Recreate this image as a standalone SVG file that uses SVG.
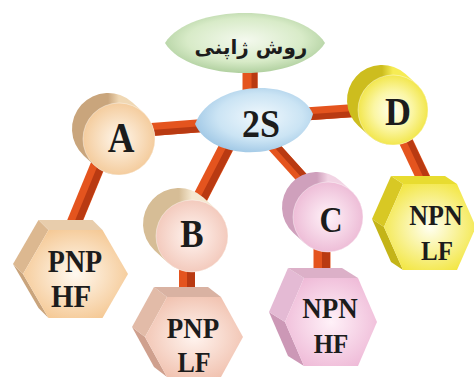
<svg xmlns="http://www.w3.org/2000/svg" width="474" height="385" viewBox="0 0 474 385">
<style>
.lbl{font-family:"Liberation Serif","Times New Roman",serif;font-weight:bold;text-anchor:middle;fill:#1c1c1c}
.bar{stroke:#e4541e;fill:none}
.shade{stroke:#b93a12;fill:none}
.edge{stroke:#ffffff;stroke-opacity:0.5;stroke-width:0.8}
</style>
<defs>
<radialGradient id="gGreen" cx="0.5" cy="0.45" r="0.6"><stop offset="0" stop-color="#f4f9ee"/><stop offset="0.6" stop-color="#d8ebc8"/><stop offset="1" stop-color="#a6c995"/></radialGradient>
<radialGradient id="gBlue" cx="0.55" cy="0.45" r="0.6"><stop offset="0" stop-color="#f0f8fd"/><stop offset="0.6" stop-color="#cbe4f4"/><stop offset="1" stop-color="#9cc5e4"/></radialGradient>
<radialGradient id="fA" cx="0.5" cy="0.5" r="0.55"><stop offset="0" stop-color="#fff7ec"/><stop offset="1" stop-color="#f3c896"/></radialGradient>
<linearGradient id="sA" x1="0" y1="0" x2="1" y2="0"><stop offset="0" stop-color="#c9a57c"/><stop offset="1" stop-color="#f0d8b4"/></linearGradient>
<radialGradient id="fB" cx="0.5" cy="0.5" r="0.55"><stop offset="0" stop-color="#fff5f1"/><stop offset="1" stop-color="#f2c6b8"/></radialGradient>
<linearGradient id="sB" x1="0" y1="0" x2="1" y2="0"><stop offset="0" stop-color="#d6bd96"/><stop offset="1" stop-color="#f5e8d0"/></linearGradient>
<radialGradient id="fC" cx="0.5" cy="0.5" r="0.55"><stop offset="0" stop-color="#fff3f9"/><stop offset="1" stop-color="#ecb8d4"/></radialGradient>
<linearGradient id="sC" x1="0" y1="0" x2="1" y2="0"><stop offset="0" stop-color="#cfa0bc"/><stop offset="1" stop-color="#f2d4e4"/></linearGradient>
<radialGradient id="fD" cx="0.5" cy="0.5" r="0.55"><stop offset="0" stop-color="#ffffef"/><stop offset="0.5" stop-color="#fbf6a4"/><stop offset="1" stop-color="#f0e33a"/></radialGradient>
<linearGradient id="sD" x1="0" y1="0" x2="1" y2="0"><stop offset="0" stop-color="#cdbd1e"/><stop offset="1" stop-color="#f6ec54"/></linearGradient>
<radialGradient id="hA" cx="0.5" cy="0.5" r="0.6"><stop offset="0" stop-color="#fff9f0"/><stop offset="1" stop-color="#f4c58e"/></radialGradient>
<radialGradient id="hB" cx="0.5" cy="0.5" r="0.6"><stop offset="0" stop-color="#fff4ef"/><stop offset="1" stop-color="#f0bfac"/></radialGradient>
<radialGradient id="hC" cx="0.5" cy="0.5" r="0.6"><stop offset="0" stop-color="#fff1f8"/><stop offset="1" stop-color="#eeb8d6"/></radialGradient>
<radialGradient id="hD" cx="0.5" cy="0.5" r="0.6"><stop offset="0" stop-color="#fffff2"/><stop offset="1" stop-color="#f2e53a"/></radialGradient>
</defs>
<rect width="474" height="385" fill="#ffffff"/>

<g id="connectors">
<line class="bar" x1="250" y1="66" x2="250" y2="97" stroke-width="15"/>
<line class="shade" x1="254.5" y1="66" x2="254.5" y2="97" stroke-width="6"/>
<line class="bar" x1="145" y1="130" x2="210" y2="125" stroke-width="13"/>
<line class="shade" x1="145" y1="133.5" x2="210" y2="128.5" stroke-width="6"/>
<line class="bar" x1="305" y1="114" x2="362" y2="110" stroke-width="13"/>
<line class="shade" x1="305" y1="117.5" x2="362" y2="113.5" stroke-width="6"/>
<line class="bar" x1="230" y1="140" x2="198" y2="202" stroke-width="15"/>
<line class="shade" x1="233.1" y1="141.6" x2="201.1" y2="203.6" stroke-width="7"/>
<line class="bar" x1="266" y1="138" x2="312" y2="189" stroke-width="12"/>
<line class="shade" x1="268.2" y1="136" x2="314.2" y2="187" stroke-width="6"/>
<line class="bar" x1="100" y1="160" x2="72" y2="228" stroke-width="15"/>
<line class="shade" x1="103.2" y1="161.3" x2="75.2" y2="229.3" stroke-width="7"/>
<line class="bar" x1="187" y1="258" x2="187" y2="302" stroke-width="16"/>
<line class="shade" x1="191" y1="258" x2="191" y2="302" stroke-width="8"/>
<line class="bar" x1="322" y1="245" x2="322" y2="284" stroke-width="17"/>
<line class="shade" x1="326" y1="245" x2="326" y2="284" stroke-width="8"/>
<line class="bar" x1="402" y1="133" x2="428" y2="188" stroke-width="14"/>
<line class="shade" x1="405.1" y1="131.5" x2="431.1" y2="186.5" stroke-width="6"/>
</g>

<g id="node-method">
<path d="M165,43 C190,3 300,3 325,43 C300,83 190,83 165,43 Z" fill="url(#gGreen)"/>
<text x="251" y="54" font-family="'DejaVu Sans','Noto Sans',sans-serif" font-weight="bold" font-size="20" text-anchor="middle" fill="#1c1c1c">روش ژاپنی</text>
</g>

<g id="node-2S">
<path d="M195,124 C212,80 296,76 313,114 C302,160 214,166 195,124 Z" fill="url(#gBlue)"/>
<text class="lbl" font-size="36" transform="translate(261,137) scale(1,1.12)">2S</text>
</g>

<g id="node-A">
<line x1="119" y1="139" x2="108" y2="129" stroke="url(#sA)" stroke-width="72" stroke-linecap="round"/>
<circle cx="119" cy="139" r="36" fill="url(#fA)" class="edge"/>
<text class="lbl" font-size="37" transform="translate(121,152) scale(1,1.12)">A</text>
</g>

<g id="node-B">
<line x1="192" y1="236" x2="179" y2="224" stroke="url(#sB)" stroke-width="72" stroke-linecap="round"/>
<circle cx="192" cy="236" r="36" fill="url(#fB)" class="edge"/>
<text class="lbl" font-size="35" transform="translate(192,247) scale(1,1.12)">B</text>
</g>

<g id="node-C">
<line x1="328" y1="217" x2="317" y2="207" stroke="url(#sC)" stroke-width="70" stroke-linecap="round"/>
<circle cx="328" cy="217" r="35" fill="url(#fC)" class="edge"/>
<text class="lbl" font-size="32" transform="translate(331,232) scale(1,1.12)">C</text>
</g>

<g id="node-D">
<line x1="393" y1="110" x2="382" y2="100" stroke="url(#sD)" stroke-width="70" stroke-linecap="round"/>
<circle cx="393" cy="110" r="35" fill="url(#fD)" class="edge"/>
<text class="lbl" font-size="36" transform="translate(398,125) scale(1,1.12)">D</text>
</g>

<g id="node-PNP-HF">
<polygon points="48.5,318 38.5,308 13,264 23,274" fill="#c9a47c"/>
<polygon points="23,274 13,264 38.5,220 48.5,230" fill="#dcb890"/>
<polygon points="48.5,230 38.5,220 92.5,220 102.5,230" fill="#e8cdac"/>
<polygon points="23,274 48.5,230 102.5,230 128,274 102.5,318 48.5,318" fill="url(#hA)"/>
<text class="lbl" font-size="28" transform="translate(75,272) scale(1,1.12)">PNP</text>
<text class="lbl" font-size="29" transform="translate(71,307) scale(1,1.12)">HF</text>
</g>

<g id="node-PNP-LF">
<polygon points="167,377 154,367 132,327 145,337" fill="#cfa08e"/>
<polygon points="145,337 132,327 154,287 167,297" fill="#e2bba8"/>
<polygon points="167,297 154,287 208,287 221,297" fill="#d9b2a2"/>
<polygon points="145,337 167,297 221,297 243,337 221,377 167,377" fill="url(#hB)"/>
<text class="lbl" font-size="27" transform="translate(193,338) scale(1,1.12)">PNP</text>
<text class="lbl" font-size="26" transform="translate(194,372) scale(1,1.12)">LF</text>
</g>

<g id="node-NPN-HF">
<polygon points="304,366 288,356 269,312 285,322" fill="#cc98b6"/>
<polygon points="285,322 269,312 288,268 304,278" fill="#e4bad4"/>
<polygon points="304,278 288,268 342,268 358,278" fill="#dcb0c8"/>
<polygon points="285,322 304,278 358,278 377,322 358,366 304,366" fill="url(#hC)"/>
<text class="lbl" font-size="27" transform="translate(330,318) scale(1,1.12)">NPN</text>
<text class="lbl" font-size="25" transform="translate(331,353) scale(1,1.12)">HF</text>
</g>

<g id="node-NPN-LF">
<polygon points="403,270 391,262 372,219 384,227" fill="#c4b418"/>
<polygon points="384,227 372,219 391,176 403,184" fill="#d8c824"/>
<polygon points="403,184 391,176 445,176 457,184" fill="#e8dc30"/>
<polygon points="384,227 403,184 457,184 476,227 457,270 403,270" fill="url(#hD)"/>
<text class="lbl" font-size="26" transform="translate(436,225) scale(1,1.12)">NPN</text>
<text class="lbl" font-size="25" transform="translate(437,260) scale(1,1.12)">LF</text>
</g>
</svg>
